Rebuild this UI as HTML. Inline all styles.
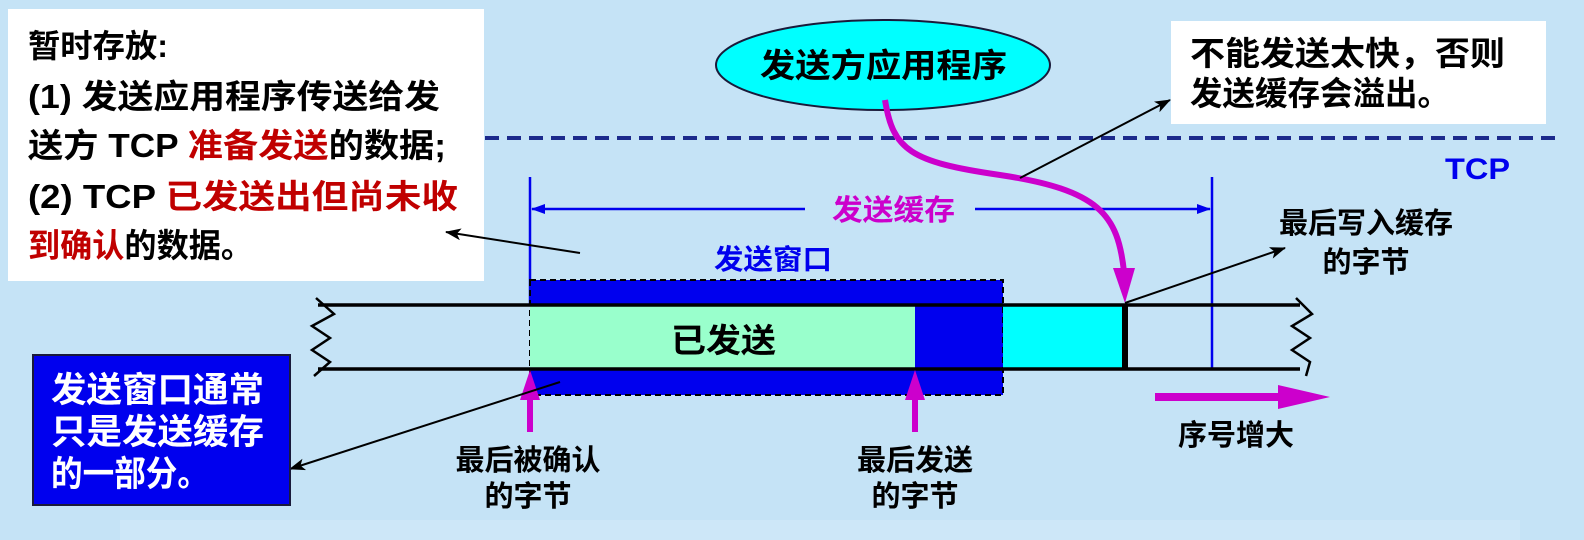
<!DOCTYPE html>
<html><head><meta charset="utf-8"><style>
html,body{margin:0;padding:0;background:#c5e3f6;}
svg{display:block;}
text{font-family:"Liberation Sans","Noto Sans CJK SC",sans-serif;font-weight:bold;}
</style></head><body>
<svg width="1584" height="540" viewBox="0 0 1584 540" xmlns="http://www.w3.org/2000/svg">
<defs>
<marker id="ab" markerWidth="16" markerHeight="12" refX="15" refY="6" orient="auto" markerUnits="userSpaceOnUse"><path d="M0,0 L16,6 L0,12 L4,6 Z" fill="#000"/></marker>
<marker id="abl" markerWidth="14" markerHeight="10" refX="13" refY="5" orient="auto" markerUnits="userSpaceOnUse"><path d="M0,0 L14,5 L0,10 Z" fill="#0000ee"/></marker>
</defs>
<rect x="0" y="0" width="1584" height="540" fill="#c5e3f6"/>
<rect x="120" y="520" width="1400" height="20" fill="#cde7f8"/>

<rect x="8" y="9" width="476" height="272" fill="#fff"/>
<text x="28" y="57" font-size="32" textLength="140" lengthAdjust="spacingAndGlyphs">暂时存放:</text>
<text x="28" y="108" font-size="33" textLength="412" lengthAdjust="spacingAndGlyphs">(1) 发送应用程序传送给发</text>
<text x="28" y="157" font-size="33" textLength="418" lengthAdjust="spacingAndGlyphs">送方 TCP <tspan fill="#c00000">准备发送</tspan>的数据;</text>
<text x="28" y="208" font-size="33" textLength="430" lengthAdjust="spacingAndGlyphs">(2)  TCP <tspan fill="#c00000">已发送出但尚未收</tspan></text>
<text x="28" y="257" font-size="33" textLength="225" lengthAdjust="spacingAndGlyphs"><tspan fill="#c00000">到确认</tspan>的数据。</text>

<ellipse cx="883" cy="65" rx="167" ry="45" fill="#00ffff" stroke="#1a1a3a" stroke-width="2"/>
<text x="760" y="77" font-size="33" textLength="247" lengthAdjust="spacingAndGlyphs">发送方应用程序</text>

<rect x="1171" y="21" width="375" height="103" fill="#fff"/>
<text x="1190" y="65" font-size="33" textLength="315" lengthAdjust="spacingAndGlyphs">不能发送太快，否则</text>
<text x="1190" y="105" font-size="33" textLength="260" lengthAdjust="spacingAndGlyphs">发送缓存会溢出。</text>

<line x1="485" y1="138" x2="1557" y2="138" stroke="#1c2a8c" stroke-width="4" stroke-dasharray="14,8"/>
<text x="1445" y="179" font-size="30" fill="#0000ee" textLength="65" lengthAdjust="spacingAndGlyphs">TCP</text>

<line x1="530" y1="177" x2="530" y2="305" stroke="#0000ee" stroke-width="2.5"/>
<line x1="1212" y1="177" x2="1212" y2="369" stroke="#0000ee" stroke-width="2.5"/>
<line x1="805" y1="209" x2="532" y2="209" stroke="#0000ee" stroke-width="2.5" marker-end="url(#abl)"/>
<line x1="975" y1="209" x2="1210" y2="209" stroke="#0000ee" stroke-width="2.5" marker-end="url(#abl)"/>
<text x="832" y="220" font-size="29" fill="#cc00cc" textLength="123" lengthAdjust="spacingAndGlyphs">发送缓存</text>
<text x="714" y="269" font-size="28" fill="#0000ee" textLength="118" lengthAdjust="spacingAndGlyphs">发送窗口</text>

<rect x="530" y="280" width="473" height="115" fill="#0000ee" stroke="#000" stroke-width="2" stroke-dasharray="6,4"/>
<rect x="530" y="305" width="385" height="64" fill="#99ffcc"/>
<rect x="1003" y="305" width="119" height="64" fill="#00ffff"/>
<line x1="1125" y1="305" x2="1125" y2="369" stroke="#000" stroke-width="6"/>
<line x1="318" y1="305" x2="1300" y2="305" stroke="#000" stroke-width="3.5"/>
<line x1="318" y1="369" x2="1300" y2="369" stroke="#000" stroke-width="3.5"/>
<polyline points="316,298 334,314 312,326 330,338 312,350 330,362 314,376" fill="none" stroke="#000" stroke-width="2.5"/>
<polyline points="1296,298 1312,314 1292,326 1310,338 1292,350 1310,362 1306,376" fill="none" stroke="#000" stroke-width="2.5"/>
<text x="671" y="352" font-size="33" textLength="105" lengthAdjust="spacingAndGlyphs">已发送</text>

<rect x="527" y="390" width="6" height="42" fill="#cc00cc"/>
<path d="M520,400 L530,370 L540,400 Z" fill="#cc00cc"/>
<rect x="912" y="390" width="6" height="42" fill="#cc00cc"/>
<path d="M905,400 L915,370 L925,400 Z" fill="#cc00cc"/>

<text x="528" y="470" font-size="29" text-anchor="middle">最后被确认</text>
<text x="528" y="506" font-size="29" text-anchor="middle">的字节</text>
<text x="915" y="470" font-size="29" text-anchor="middle">最后发送</text>
<text x="915" y="506" font-size="29" text-anchor="middle">的字节</text>

<path d="M885,100 C893,150 910,162 1000,175 C1100,190 1118,215 1124,272" fill="none" stroke="#cc00cc" stroke-width="6"/>
<path d="M1113,268 L1125,303 L1135,268 Z" fill="#cc00cc"/>

<line x1="1020" y1="178" x2="1170" y2="100" stroke="#000" stroke-width="2" marker-end="url(#ab)"/>
<line x1="1125" y1="303" x2="1285" y2="248" stroke="#000" stroke-width="2" marker-end="url(#ab)"/>
<line x1="580" y1="253" x2="446" y2="232" stroke="#000" stroke-width="2" marker-end="url(#ab)"/>
<line x1="560" y1="382" x2="290" y2="469" stroke="#000" stroke-width="2" marker-end="url(#ab)"/>

<text x="1366" y="233" font-size="29" text-anchor="middle">最后写入缓存</text>
<text x="1366" y="272" font-size="29" text-anchor="middle">的字节</text>

<rect x="1155" y="393" width="125" height="8" fill="#cc00cc"/>
<path d="M1278,385 L1330,397 L1278,409 Z" fill="#cc00cc"/>
<text x="1236" y="445" font-size="29" text-anchor="middle">序号增大</text>

<rect x="33" y="355" width="257" height="150" fill="#0000ee" stroke="#1a1a3a" stroke-width="2"/>
<text x="51" y="402" font-size="35" fill="#fff" textLength="213" lengthAdjust="spacingAndGlyphs">发送窗口通常</text>
<text x="51" y="444" font-size="35" fill="#fff" textLength="213" lengthAdjust="spacingAndGlyphs">只是发送缓存</text>
<text x="51" y="486" font-size="35" fill="#fff" textLength="158" lengthAdjust="spacingAndGlyphs">的一部分。</text>
</svg>
</body></html>
